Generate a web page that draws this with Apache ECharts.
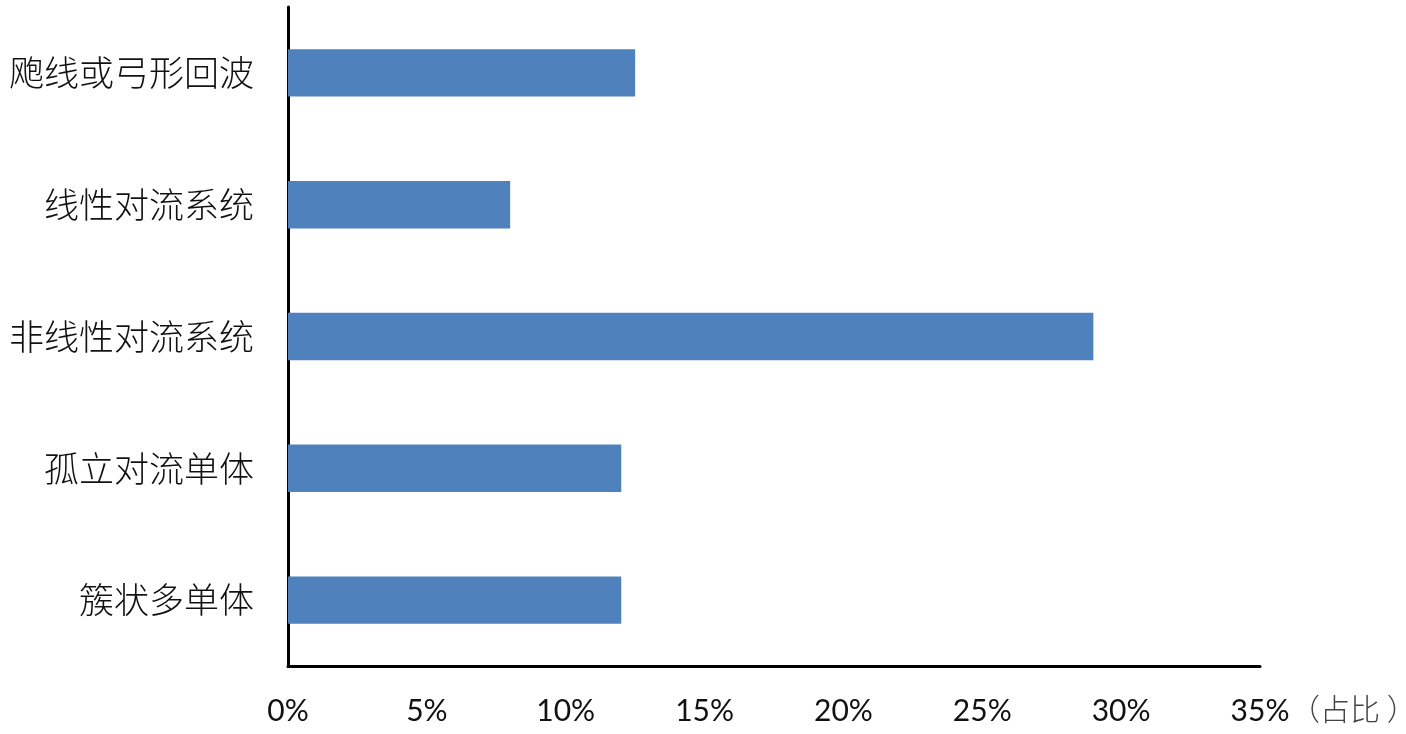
<!DOCTYPE html>
<html>
<head>
<meta charset="utf-8">
<script src="https://cdn.jsdelivr.net/npm/echarts@6/dist/echarts.min.js"></script>
<style>
html,body{margin:0;padding:0;background:#fff;}
#chart{width:1406px;height:734px;}
</style>
</head>
<body>
<div id="chart"></div>
<script>
const categories = ['簇状多单体','孤立对流单体','非线性对流系统','线性对流系统','飑线或弓形回波'];
const shares = [12.0, 12.0, 29.0, 8.0, 12.5];
const xTicks = [0, 5, 10, 15, 20, 25, 30, 35];
const unitLabel = '（占比 ）';

const chart = echarts.init(document.getElementById('chart'));
chart.setOption({
  animation: false,
  backgroundColor: '#ffffff',
  grid: {left: 288, right: 146, top: 7, bottom: 68, containLabel: false},
  xAxis: {
    type: 'value',
    min: xTicks[0],
    max: xTicks[xTicks.length - 1],
    interval: 5,
    axisLine: {show: true, lineStyle: {color: '#000', width: 3}},
    axisTick: {show: false},
    splitLine: {show: false},
    axisLabel: {
      margin: 30,
      fontSize: 30,
      fontFamily: 'Lato, "Open Sans", sans-serif',
      color: '#111',
      formatter: v => v + '%'
    }
  },
  yAxis: {
    type: 'category',
    data: categories,
    axisLine: {show: true, lineStyle: {color: '#000', width: 3}},
    axisTick: {show: false},
    splitLine: {show: false},
    axisLabel: {
      margin: 34,
      fontSize: 35,
      fontFamily: '"Noto Sans CJK SC", sans-serif',
      fontWeight: 300,
      color: '#111'
    }
  },
  graphic: [{
    type: 'text',
    left: 1290,
    top: 694,
    style: {
      text: unitLabel,
      fontSize: 30,
      fontFamily: '"Noto Sans CJK SC", sans-serif',
      fontWeight: 300,
      fill: '#444'
    }
  }],
  series: [{
    type: 'bar',
    data: shares,
    barWidth: '36%',
    itemStyle: {color: '#4F81BD'}
  }]
});
</script>
</body>
</html>
